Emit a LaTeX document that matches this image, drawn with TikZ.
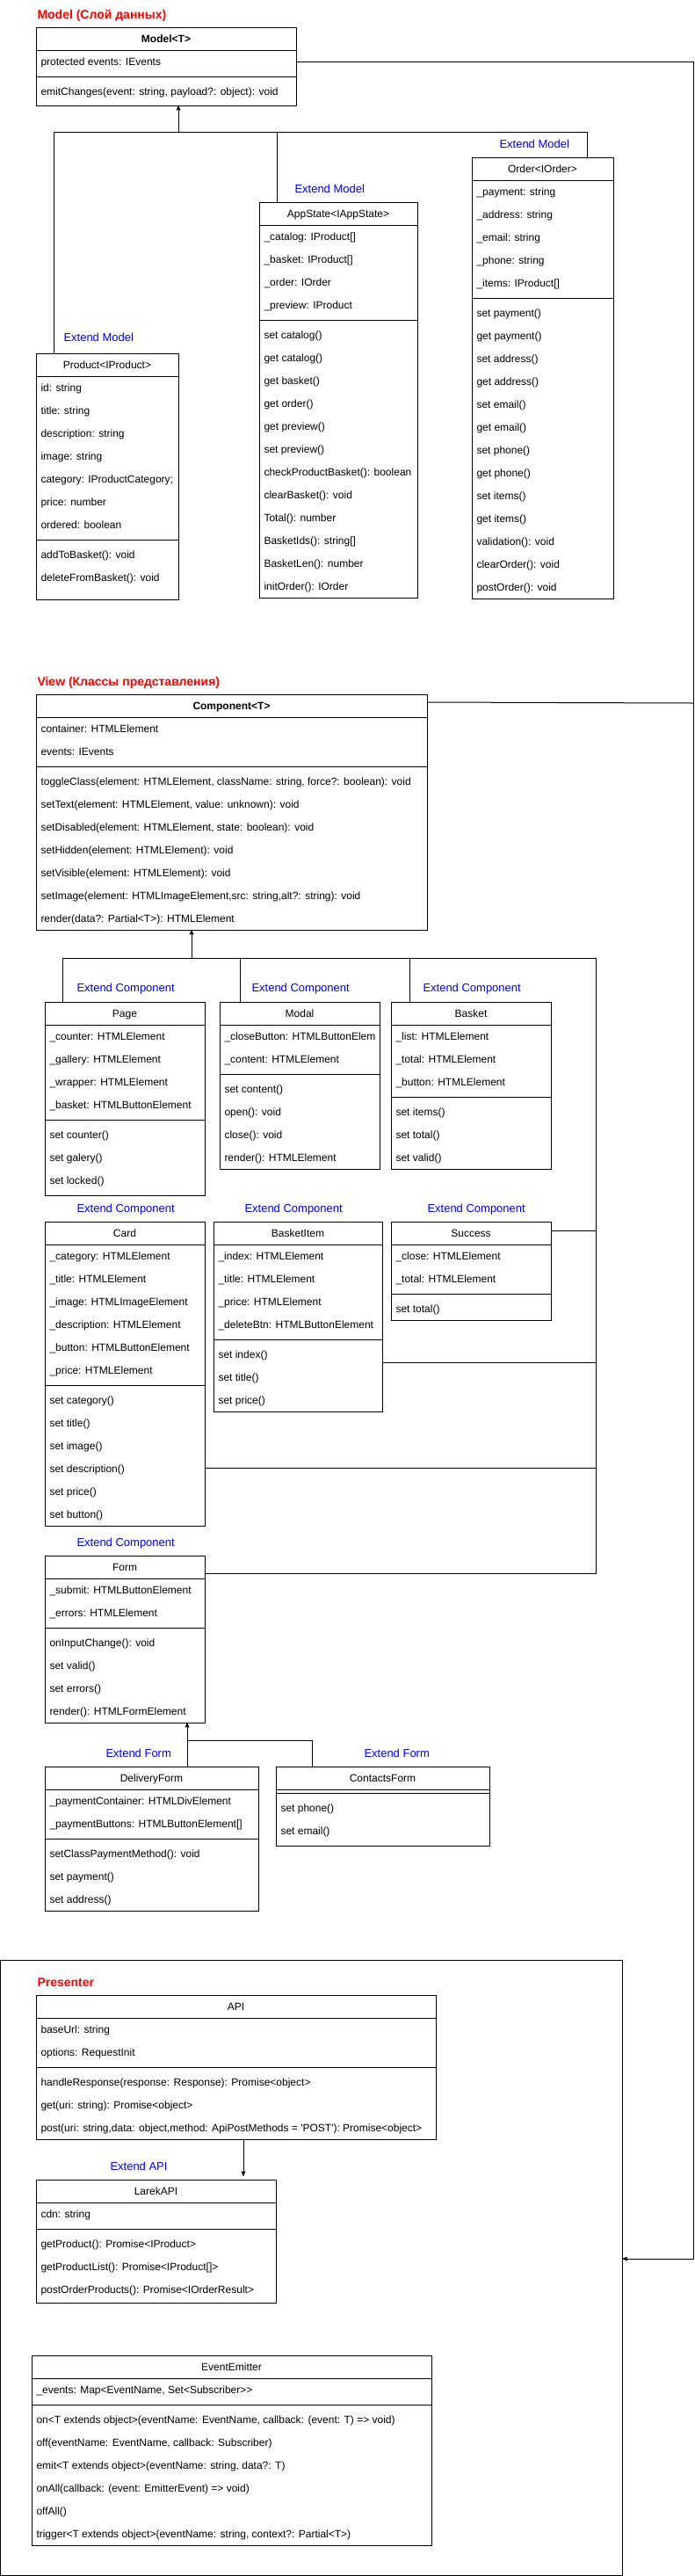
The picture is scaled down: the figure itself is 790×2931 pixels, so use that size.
\documentclass[tikz,border=0pt]{standalone}
\usepackage{fontspec}
\usepackage{tikz}
\usetikzlibrary{arrows}
\newfontfamily\arial{Liberation Sans}
\definecolor{extblue}{RGB}{0,0,255}
\definecolor{titlered}{RGB}{255,0,0}
\tikzset{
    classbox/.style={draw, inner sep=0pt, outer sep=0pt},
    rowtext/.style={anchor=west, inner sep=0pt, font=\arial\fontsize{12}{14}\selectfont,
        text height=8.6pt, text depth=0pt},
    headtext/.style={rowtext, anchor=center},
    extlabel/.style={anchor=west, inner sep=0pt, text=extblue,
        font=\arial\fontsize{13}{15}\selectfont, text height=9.3pt, text depth=0pt},
    layertitle/.style={anchor=west, inner sep=0pt, text=titlered,
        font=\arial\bfseries\fontsize{14}{16}\selectfont, text height=10pt, text depth=0pt}
}
% class box: [extra height]{name}{left}{top}{width}{title}{attributes}{methods}
\newcommand{\umlclass}[8][0]{%
    \gdef\na{0}\gdef\nm{0}%
    \foreach \entry [count=\i] in {#7}{\ifx\entry\empty\else\xdef\na{\i}\fi}%
    \foreach \entry [count=\i] in {#8}{\ifx\entry\empty\else\xdef\nm{\i}\fi}%
    \pgfmathsetmacro\hh{34+26*\na+26*\nm+#1}%
    \node[classbox, minimum width=#5, minimum height=\hh, anchor=north west] (#2) at (#3,#4) {};
    \node[headtext] (#2-h) at (#3+#5/2,#4+13) {#6};
    \draw (#3,#4+26) -- ++(#5,0);
    \draw (#3,#4+30+26*\na) -- ++(#5,0);
    \foreach \entry [count=\i] in {#7}{\ifx\entry\empty\else
        \node[rowtext] (#2-a\i) at (#3+5,#4+13+26*\i) {\entry};\fi}
    \foreach \entry [count=\i] in {#8}{\ifx\entry\empty\else
        \node[rowtext] (#2-m\i) at (#3+5,#4+21+26*\na+26*\i) {\entry};\fi}
}

\begin{document}
\begin{tikzpicture}[x=1pt, y=-1pt, line width=1pt, >=stealth']
\useasboundingbox (0,0) rectangle (790,2931);

% Model layer
\node[layertitle] (tmodel) at (42,16) {Model (Слой данных)};
\umlclass[3]{model}{41}{31}{296}{\bfseries Model<T>}
    {{protected events: IEvents}}
    {{emitChanges(event: string, payload?: object): void}}
\umlclass{order}{537}{179}{161}{Order<IOrder>}
    {{\_payment: string},{\_address: string},{\_email: string},{\_phone: string},{\_items: IProduct[]}}
    {{set payment()},{get payment()},{set address()},{get address()},{set email()},{get email()},
     {set phone()},{get phone()},{set items()},{get items()},{validation(): void},{clearOrder(): void},
     {postOrder(): void}}
\umlclass{appstate}{295}{230}{180}{AppState<IAppState>}
    {{\_catalog: IProduct[]},{\_basket: IProduct[]},{\_order: IOrder},{\_preview: IProduct}}
    {{set catalog()},{get catalog()},{get basket()},{get order()},{get preview()},{set preview()},
     {checkProductBasket(): boolean},{clearBasket(): void},{Total(): number},{BasketIds(): string[]},
     {BasketLen(): number},{initOrder(): IOrder}}
\umlclass[12]{product}{41}{402}{162}{Product<IProduct>}
    {{id: string},{title: string},{description: string},{image: string},
     {category: IProductCategory;},{price: number},{ordered: boolean}}
    {{addToBasket(): void},{deleteFromBasket(): void}}
\node[extlabel] (lorder) at (568,164) {Extend Model};
\node[extlabel] (lapp) at (335,215) {Extend Model};
\node[extlabel] (lproduct) at (72,384) {Extend Model};

\coordinate (mj) at (203,150);
\coordinate (mL) at (61,150);
\coordinate (mM) at (315,150);
\coordinate (mR) at (668,150);
\draw[->] (mj) -- (mj |- model.south);
\draw (mL |- product.north) -- (mL) -- (mR) -- (mR |- order.north);
\draw (mM) -- (mM |- appstate.north);

% View layer
\node[layertitle] (tview) at (42,775) {View (Классы представления)};
\umlclass{component}{41}{790}{445}{\bfseries Component<T>}
    {{container: HTMLElement},{events: IEvents}}
    {{toggleClass(element: HTMLElement, className: string, force?: boolean): void},
     {setText(element: HTMLElement, value: unknown): void},
     {setDisabled(element: HTMLElement, state: boolean): void},
     {setHidden(element: HTMLElement): void},
     {setVisible(element: HTMLElement): void},
     {setImage(element: HTMLImageElement,src: string,alt?: string): void},
     {render(data?: Partial<T>): HTMLElement}}
\umlclass[4]{page}{51}{1140}{182}{Page}
    {{\_counter: HTMLElement},{\_gallery: HTMLElement},{\_wrapper: HTMLElement},{\_basket: HTMLButtonElement}}
    {{set counter()},{set galery()},{set locked()}}
\umlclass{modal}{250}{1140}{182}{Modal}
    {{\_closeButton: HTMLButtonElem},{\_content: HTMLElement}}
    {{set content()},{open(): void},{close(): void},{render(): HTMLElement}}
\umlclass{basket}{445}{1140}{182}{Basket}
    {{\_list: HTMLElement},{\_total: HTMLElement},{\_button: HTMLElement}}
    {{set items()},{set total()},{set valid()}}
\umlclass{card}{51}{1390}{182}{Card}
    {{\_category: HTMLElement},{\_title: HTMLElement},{\_image: HTMLImageElement},
     {\_description: HTMLElement},{\_button: HTMLButtonElement},{\_price: HTMLElement}}
    {{set category()},{set title()},{set image()},{set description()},{set price()},{set button()}}
\umlclass{basketitem}{243}{1390}{192}{BasketItem}
    {{\_index: HTMLElement},{\_title: HTMLElement},{\_price: HTMLElement},{\_deleteBtn: HTMLButtonElement}}
    {{set index()},{set title()},{set price()}}
\umlclass{success}{445}{1390}{182}{Success}
    {{\_close: HTMLElement},{\_total: HTMLElement}}
    {{set total()}}
\umlclass{form}{51}{1770}{182}{Form}
    {{\_submit: HTMLButtonElement},{\_errors: HTMLElement}}
    {{onInputChange(): void},{set valid()},{set errors()},{render(): HTMLFormElement}}
\umlclass{delivery}{51}{2010}{243}{DeliveryForm}
    {{\_paymentContainer: HTMLDivElement},{\_paymentButtons: HTMLButtonElement[]}}
    {{setClassPaymentMethod(): void},{set payment()},{set address()}}
\umlclass[4]{contacts}{314}{2010}{243}{ContactsForm}
    {}
    {{set phone()},{set email()}}
\node[extlabel] (lpage) at (87,1124) {Extend Component};
\node[extlabel] (lmodal) at (286,1124) {Extend Component};
\node[extlabel] (lbasket) at (481,1124) {Extend Component};
\node[extlabel] (lcard) at (87,1375) {Extend Component};
\node[extlabel] (litem) at (278,1375) {Extend Component};
\node[extlabel] (lsuccess) at (486,1375) {Extend Component};
\node[extlabel] (lform) at (87,1755) {Extend Component};
\node[extlabel] (ldelivery) at (120,1995) {Extend Form};
\node[extlabel] (lcontacts) at (414,1995) {Extend Form};

\coordinate (vj) at (218,1090);
\coordinate (vL) at (71,1090);
\coordinate (vA) at (273,1090);
\coordinate (vB) at (466,1090);
\coordinate (vR) at (678,1090);
\coordinate (vS) at (678,1400);
\coordinate (vI) at (678,1550);
\coordinate (vC) at (678,1670);
\coordinate (vE) at (678,1790);
\draw[->] (vj) -- (vj |- component.south);
\draw (vL |- page.north) -- (vL) -- (vR) -- (vE) -- (vE -| form.east);
\draw (vA) -- (vA |- modal.north);
\draw (vB) -- (vB |- basket.north);
\draw (vS -| success.east) -- (vS);
\draw (vI -| basketitem.east) -- (vI);
\draw (vC -| card.east) -- (vC);

\coordinate (fj) at (213,1980);
\coordinate (fr) at (355,1980);
\draw[->] (fj) -- (fj |- form.south);
\draw (fj |- delivery.north) -- (fj) -- (fr) -- (fr |- contacts.north);

% Presenter layer
\node[classbox, minimum width=708, minimum height=700, anchor=north west] (presenter) at (0.5,2230) {};
\node[layertitle] (tpresenter) at (42,2255) {Presenter};
\umlclass{api}{41}{2270}{455}{API}
    {{baseUrl: string},{options: RequestInit}}
    {{handleResponse(response: Response): Promise<object>},{get(uri: string): Promise<object>},
     {post(uri: string,data: object,method: ApiPostMethods = 'POST'): Promise<object>}}
\umlclass[2]{larek}{41}{2480}{273}{LarekAPI}
    {{cdn: string}}
    {{getProduct(): Promise<IProduct>},{getProductList(): Promise<IProduct[]>},
     {postOrderProducts(): Promise<IOrderResult>}}
\umlclass{emitter}{36}{2680}{455}{EventEmitter}
    {{\_events: Map<EventName, Set<Subscriber>>}}
    {{on<T extends object>(eventName: EventName, callback: (event: T) => void)},
     {off(eventName: EventName, callback: Subscriber)},
     {emit<T extends object>(eventName: string, data?: T)},
     {onAll(callback: (event: EmitterEvent) => void)},
     {offAll()},
     {trigger<T extends object>(eventName: string, context?: Partial<T>)}}
\node[extlabel] (llarek) at (125,2465) {Extend API};

\coordinate (aj) at (277,2450);
\draw[->, shorten >=4pt] (aj |- api.south) -- (aj |- larek.north);

% links to the presenter
\coordinate (railtop) at (789,70);
\coordinate (cj) at (789,800);
\coordinate (railend) at (789,2570);
\draw[->] (model.east |- model-a1) -- (railtop) -- (railend) -- (railend -| presenter.east);
\draw ([yshift=-9pt]component.north east) -- (cj);
\end{tikzpicture}
\end{document}
